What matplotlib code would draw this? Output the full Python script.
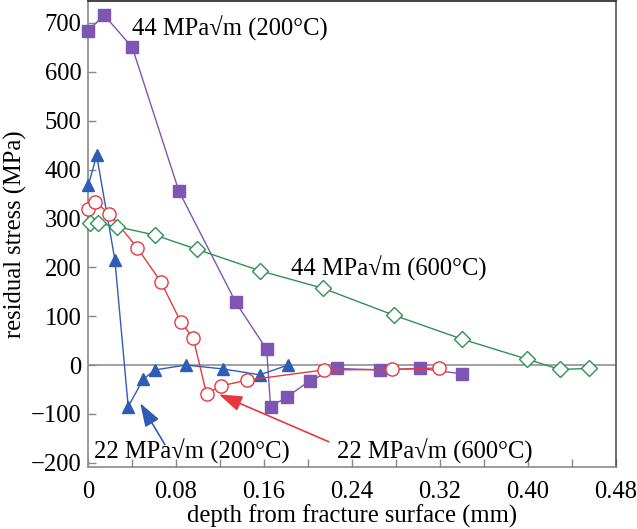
import matplotlib
matplotlib.use("Agg")
import matplotlib.pyplot as plt
from matplotlib.ticker import MultipleLocator

plt.rcParams['font.family'] = ['Liberation Serif', 'DejaVu Serif']

# 44 MPa√m (200°C) - purple squares
x_p44_200 = [0.000, 0.0148, 0.0403, 0.0827, 0.1345, 0.1625, 0.1661, 0.1806, 0.2018, 0.2266, 0.2655, 0.3018, 0.3403]
y_p44_200 = [684, 716, 650, 356, 128, 32, -85, -66, -32, -7, -10, -7, -18]

# 22 MPa√m (200°C) - blue triangles
x_b22_200 = [0.0003, 0.0079, 0.0245, 0.0366, 0.0503, 0.0609, 0.0891, 0.1230, 0.1564, 0.1820]
y_b22_200 = [368, 429, 215, -85, -29, -10, 0, -8, -20, 0]

# 22 MPa√m (600°C) - red open circles
x_r22_600 = [0.000, 0.0064, 0.0194, 0.0448, 0.0664, 0.0845, 0.0957, 0.1079, 0.1206, 0.1443, 0.2145, 0.2761, 0.3190]
y_r22_600 = [320, 334, 310, 240, 170, 88, 55, -59, -43, -31, -10, -9, -6]

# 44 MPa√m (600°C) - green open diamonds
x_g44_600 = [0.0018, 0.0094, 0.0266, 0.0609, 0.0988, 0.1564, 0.2139, 0.2782, 0.3403, 0.3994, 0.4291, 0.4557]
y_g44_600 = [290, 290, 283, 266, 237, 193, 157, 102, 53, 12, -9, -7]

x_ticks = [0, 0.08, 0.16, 0.24, 0.32, 0.40, 0.48]
x_ticklabels = ['0', '0.08', '0.16', '0.24', '0.32', '0.40', '0.48']
y_ticks = [-200, -100, 0, 100, 200, 300, 400, 500, 600, 700]
y_ticklabels = ['\u2212200', '\u2212100', '0', '100', '200', '300', '400', '500', '600', '700']

label_44_200 = '44 MPa\u221Am (200\u00B0C)'
label_44_600 = '44 MPa\u221Am (600\u00B0C)'
label_22_200 = '22 MPa\u221Am (200\u00B0C)'
label_22_600 = '22 MPa\u221Am (600\u00B0C)'

FS = 17.7

fig = plt.figure(figsize=(6.37, 5.29), dpi=100)
ax = fig.add_axes([0.1381, 0.1178, 0.8285, 0.8803])

ax.axhline(0, color='#9a9a9a', lw=1.3, zorder=1)

c_purple = '#7d55b2'
c_blue = '#2f5db5'
c_red = '#e8383d'
c_green = '#2f9152'

ax.plot(x_p44_200, y_p44_200, color=c_purple, lw=1.0, marker='s', ms=8.5,
        mfc=c_purple, mec=c_purple, zorder=3, clip_on=False)
ax.plot(x_b22_200, y_b22_200, color=c_blue, lw=1.0, marker='^', ms=9,
        mfc=c_blue, mec=c_blue, zorder=3, clip_on=False)
ax.plot(x_r22_600, y_r22_600, color=c_red, lw=1.0, marker='o', ms=9.5,
        mfc='white', mec=c_red, mew=1.0, zorder=4, clip_on=False)
ax.plot(x_g44_600, y_g44_600, color=c_green, lw=1.0, marker='D', ms=8,
        mfc='white', mec=c_green, mew=1.0, zorder=4, clip_on=False)

ax.set_xlim(0, 0.48)
ax.set_ylim(-208, 745)
ax.set_xticks(x_ticks)
ax.set_xticklabels(x_ticklabels)
ax.xaxis.set_minor_locator(MultipleLocator(0.04))
ax.set_yticks(y_ticks)
ax.set_yticklabels(y_ticklabels)
ax.tick_params(axis='both', which='both', direction='in', color='#888888',
               labelsize=FS)
ax.tick_params(axis='x', which='both', pad=10)
ax.tick_params(axis='y', which='both', pad=4.5)
ax.tick_params(which='major', length=6, width=1)
ax.tick_params(which='minor', length=6, width=1)

for s in ['left', 'bottom']:
    ax.spines[s].set_color('#8a8a8a')
    ax.spines[s].set_linewidth(1.2)
ax.spines['top'].set_color('#222222')
ax.spines['right'].set_color('#555555')
ax.spines['top'].set_linewidth(1.2)
ax.spines['right'].set_linewidth(1.2)

ax.set_xlabel('depth from fracture surface (mm)', fontsize=FS, labelpad=1.5)
ax.set_ylabel('residual stress (MPa)', fontsize=FS, labelpad=2.5)

ax.text(0.040, 689, label_44_200, fontsize=FS, ha='left', va='center')
ax.text(0.185, 198, label_44_600, fontsize=FS, ha='left', va='center')
ax.text(0.0055, -176, label_22_200, fontsize=FS, ha='left', va='center')
ax.text(0.2264, -176, label_22_600, fontsize=FS, ha='left', va='center')

arrow_style = '-|>,head_length=0.65,head_width=0.22'
ax.annotate('', xy=(0.0475, -78), xytext=(0.070, -163),
            arrowprops=dict(arrowstyle=arrow_style, color=c_blue, lw=1.2,
                            mutation_scale=22, shrinkA=0, shrinkB=0))
ax.annotate('', xy=(0.119, -60), xytext=(0.219, -157),
            arrowprops=dict(arrowstyle=arrow_style, color=c_red, lw=1.2,
                            mutation_scale=22, shrinkA=0, shrinkB=0))

fig.savefig('out.png', dpi=100)
